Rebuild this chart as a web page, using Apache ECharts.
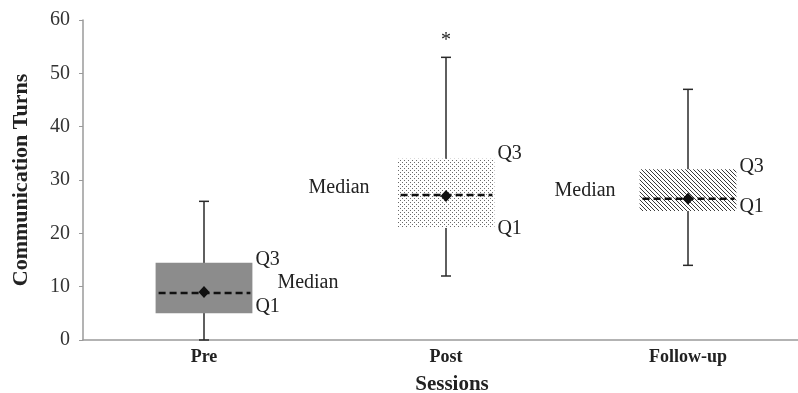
<!DOCTYPE html>
<html>
<head>
<meta charset="utf-8">
<script src="https://cdn.jsdelivr.net/npm/echarts@6/dist/echarts.min.js"></script>
<style>
html,body{margin:0;padding:0;background:#fff;}
#chart{width:798px;height:393px;}
</style>
</head>
<body>
<div id="chart"></div>
<script>
// ---- data ----
var categories = ['Pre', 'Post', 'Follow-up'];
var mins    = [0, 12, 14];
var q1s     = [5, 21, 24.2];
var medians = [8.8, 27.2, 26.5];
var q3s     = [14.5, 34, 32];
var maxs    = [26, 53, 47];
var means   = [9, 27, 26.5];
var starMark = ['', '*', ''];
var yTicks  = [0, 10, 20, 30, 40, 50, 60];

var SERIF = '"Liberation Serif", "Times New Roman", serif';

// ---- patterns ----
function makeDots() {
  var c = document.createElement('canvas'); c.width = 4; c.height = 4;
  var g = c.getContext('2d'); g.fillStyle = '#fff'; g.fillRect(0,0,4,4);
  g.fillStyle = '#6a6a6a'; g.fillRect(0,0,1,1); g.fillRect(2,2,1,1);
  return c;
}
function makeHatch() {
  var c = document.createElement('canvas'); c.width = 4; c.height = 4;
  var g = c.getContext('2d'); g.fillStyle = '#fff'; g.fillRect(0,0,4,4);
  g.fillStyle = '#3a3a3a';
  for (var i = 0; i < 4; i++) g.fillRect(i, i, 1, 1);
  return c;
}
var fills = [
  '#8c8c8c',
  { image: makeDots(), repeat: 'repeat' },
  { image: makeHatch(), repeat: 'repeat' }
];
// annotation layout per category: side of the "Median" label and offsets
var medLayout = [
  { side: 'right', dx: 25, dy: -10 },
  { side: 'left',  dx: -28, dy: -7 },
  { side: 'left',  dx: -24, dy: -8 }
];
var q3dy = [-3, -5, -3], q1dy = [-7, 1, -4];

var boxData = categories.map(function (c, i) {
  return [i, mins[i], q1s[i], medians[i], q3s[i], maxs[i], means[i]];
});

function renderBox(params, api) {
  var i = api.value(0);
  var x = api.coord([i, 0])[0];
  var yMin = api.coord([i, api.value(1)])[1];
  var yQ1 = api.coord([i, api.value(2)])[1];
  var yMed = api.coord([i, api.value(3)])[1];
  var yQ3 = api.coord([i, api.value(4)])[1];
  var yMax = api.coord([i, api.value(5)])[1];
  var yMean = api.coord([i, api.value(6)])[1];
  var halfW = api.size([1, 0])[0] * 0.2;
  var capW = 5;
  var stroke = '#2a2a2a';
  var txt = function (t, tx, ty, align) {
    return { type: 'text', z2: 20, style: { text: t, x: tx, y: ty, align: align, verticalAlign: 'middle',
      font: '20px ' + SERIF, fill: '#222' } };
  };
  var children = [
    { type: 'line', shape: { x1: x, y1: yMin, x2: x, y2: yMax }, style: { stroke: stroke, lineWidth: 1.5 } },
    { type: 'line', shape: { x1: x - capW, y1: yMax, x2: x + capW, y2: yMax }, style: { stroke: stroke, lineWidth: 1.5 } },
    { type: 'line', shape: { x1: x - capW, y1: yMin, x2: x + capW, y2: yMin }, style: { stroke: stroke, lineWidth: 1.5 } },
    { type: 'rect', shape: { x: x - halfW, y: yQ3, width: halfW * 2, height: yQ1 - yQ3 }, style: { fill: fills[i] } },
    { type: 'line', shape: { x1: x - halfW + 3, y1: yMed, x2: x + halfW - 2, y2: yMed },
      style: { stroke: '#111', lineWidth: 2.5, lineDash: [7, 4] } },
    { type: 'polygon', shape: { points: [[x, yMean - 6], [x + 5.5, yMean], [x, yMean + 6], [x - 5.5, yMean]] },
      style: { fill: '#111' } },
    txt('Q3', x + halfW + 3, yQ3 + q3dy[i], 'left'),
    txt('Q1', x + halfW + 3, yQ1 + q1dy[i], 'left')
  ];
  var ml = medLayout[i];
  if (ml.side === 'right') children.push(txt('Median', x + halfW + ml.dx, yMed + ml.dy, 'left'));
  else children.push(txt('Median', x - halfW + ml.dx, yMed + ml.dy, 'right'));
  if (starMark[i]) children.push(txt(starMark[i], x, yMax - 17, 'center'));
  return { type: 'group', children: children };
}

var chart = echarts.init(document.getElementById('chart'), null, { renderer: 'canvas' });
chart.setOption({
  animation: false,
  backgroundColor: '#fff',
  grid: { left: 83, right: -11, top: 20, bottom: 53, containLabel: false, outerBoundsMode: 'none' },
  xAxis: {
    type: 'category',
    data: categories,
    name: 'Sessions',
    nameLocation: 'middle',
    nameGap: 34,
    nameTextStyle: { fontFamily: SERIF, fontWeight: 'bold', fontSize: 21, color: '#222', padding: [0, 0, 0, 12] },
    axisLine: { lineStyle: { color: '#9a9a9a', width: 1.5 } },
    axisTick: { alignWithLabel: true, length: 4, lineStyle: { color: '#9a9a9a' } },
    axisLabel: { fontFamily: SERIF, fontWeight: 'bold', fontSize: 18, color: '#222', margin: 8 },
    splitLine: { show: false }
  },
  yAxis: {
    type: 'value',
    min: yTicks[0],
    max: yTicks[yTicks.length - 1],
    interval: 10,
    name: 'Communication Turns',
    nameLocation: 'middle',
    nameGap: 51,
    nameRotate: 90,
    nameTextStyle: { fontFamily: SERIF, fontWeight: 'bold', fontSize: 22, color: '#222' },
    axisLine: { show: true, lineStyle: { color: '#9a9a9a', width: 1.5 } },
    axisTick: { show: true, length: 4, lineStyle: { color: '#9a9a9a' } },
    axisLabel: { fontFamily: SERIF, fontSize: 20, color: '#333', margin: 13 },
    splitLine: { show: false }
  },
  series: [{
    type: 'custom',
    renderItem: renderBox,
    data: boxData,
    encode: { x: 0, y: [1, 2, 3, 4, 5] },
    clip: false
  }]
});
</script>
</body>
</html>
